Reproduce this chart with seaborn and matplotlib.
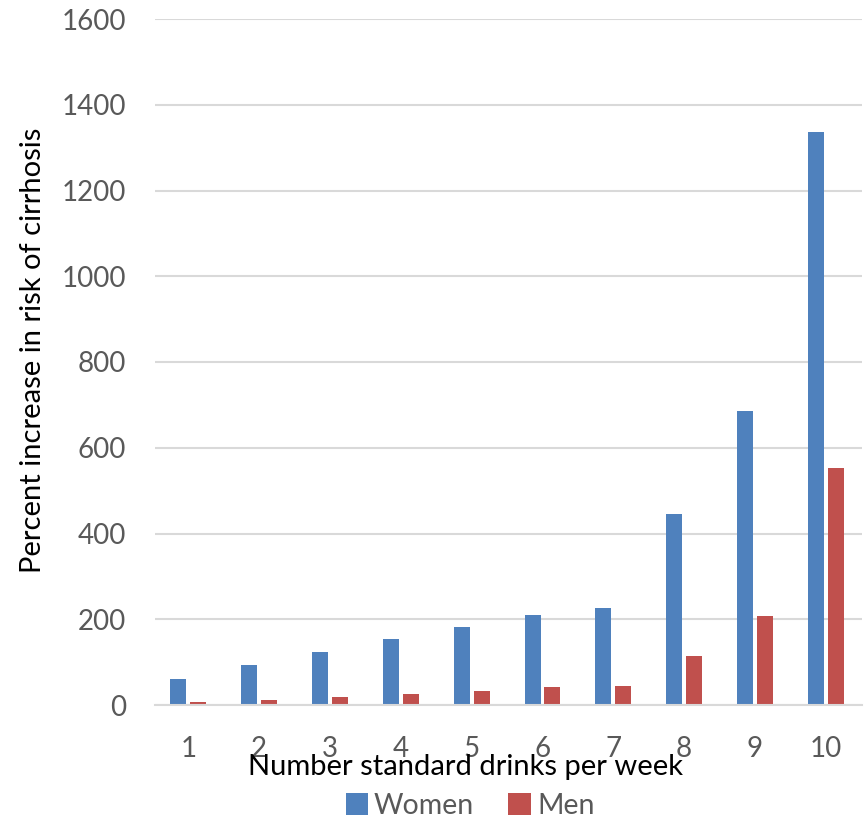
import matplotlib
matplotlib.use("Agg")
import matplotlib.pyplot as plt
import seaborn as sns
import pandas as pd
from matplotlib.patches import Patch

drinks = ["1", "2", "3", "4", "5", "6", "7", "8", "9", "10"]
women = [60, 93, 124, 153, 182, 210, 226, 445, 686, 1337]
men = [6, 12, 19, 26, 33, 41, 45, 114, 207, 553]
series = ["Women", "Men"]
colors = ["#4F81BD", "#C0504D"]

df = pd.DataFrame({
    "drinks": drinks * 2,
    "value": women + men,
    "sex": [series[0]] * len(drinks) + [series[1]] * len(drinks),
})

sns.set_theme(style="white")
plt.rcParams["font.family"] = ["Lato", "DejaVu Sans"]

fig = plt.figure(figsize=(8.67, 8.23), dpi=100)
ax = fig.add_axes([155 / 867, 1 - 705 / 823, 707 / 867, 686 / 823])

sns.barplot(data=df, x="drinks", y="value", hue="sex", order=drinks,
            hue_order=series, palette=colors, width=0.56, gap=0.2,
            ax=ax, legend=False, saturation=1, edgecolor="none")

ax.set_ylim(0, 1600)
ax.set_xlim(-0.47, 9.51)
ax.set_yticks(range(0, 1601, 200))
ax.yaxis.grid(True, color="#D9D9D9", linewidth=1.5)
ax.set_axisbelow(True)
for s in ["top", "right", "left"]:
    ax.spines[s].set_visible(False)
ax.spines["bottom"].set_color("#D9D9D9")
ax.spines["bottom"].set_linewidth(1.5)
ax.tick_params(axis="both", length=0, labelsize=20, colors="#595959")
ax.tick_params(axis="y", pad=21)
ax.tick_params(axis="x", pad=22)
ax.set_xlabel("Number standard drinks per week", fontsize=21, color="black")
ax.xaxis.set_label_coords((465 - 155) / 707, (705 - 754) / 686)
ax.set_ylabel("Percent increase in risk of cirrhosis", fontsize=21, color="black")
ax.yaxis.set_label_coords((46 - 155) / 707, (705 - 350) / 686)

handles = [Patch(facecolor=c, edgecolor="none") for c in colors]
fig.legend(handles, series, loc="center", bbox_to_anchor=(470 / 867, 1 - 806 / 823),
           ncol=2, frameon=False, fontsize=20.5, handlelength=0.8, handleheight=0.8,
           handletextpad=0.2, columnspacing=1.2, labelcolor="#595959")

fig.savefig("out.png", dpi=100)
